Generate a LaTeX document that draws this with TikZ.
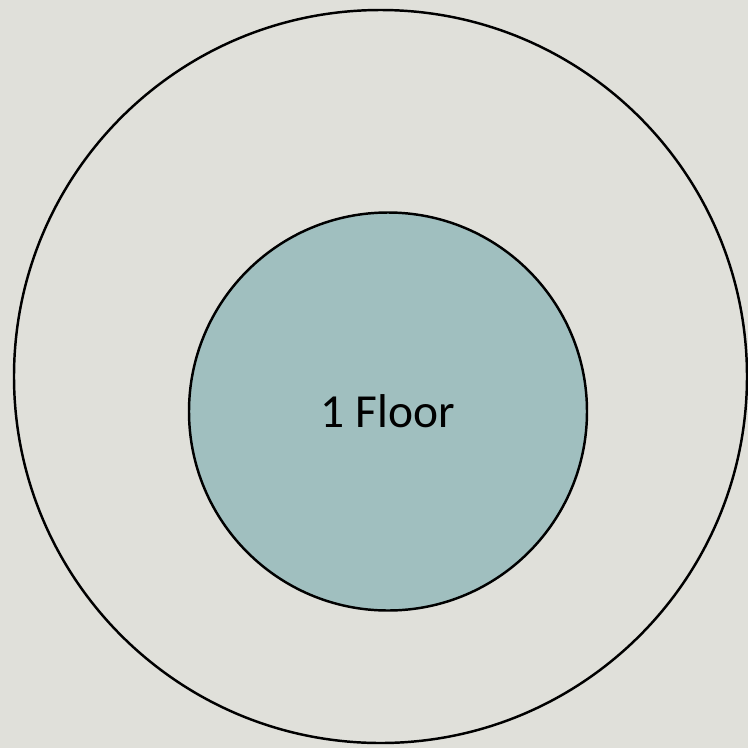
\documentclass[tikz,border=0pt]{standalone}
\usepackage{fontspec}
\setmainfont{Carlito}
\definecolor{bggray}{RGB}{224,224,218}
\definecolor{floorteal}{RGB}{160,191,191}
\begin{document}
\begin{tikzpicture}[x=0.02cm,y=-0.02cm,
      ring/.style={circle,draw=black,line width=1.4pt,inner sep=0pt},
      outerring/.style={ring,minimum size=733*0.02cm},
      floorring/.style={ring,fill=floorteal,minimum size=398*0.02cm,
                        font=\fontsize{27}{31}\selectfont}]
      % Background
      \fill[bggray] (0,0) rectangle (748,748);
      \useasboundingbox (0,0) rectangle (748,748);
      % Circles
      \node[outerring] (outer) at (380.5,376.5) {};
      \node[floorring] (floor) at (388,411.5) {1 Floor};
    \end{tikzpicture}
\end{document}
